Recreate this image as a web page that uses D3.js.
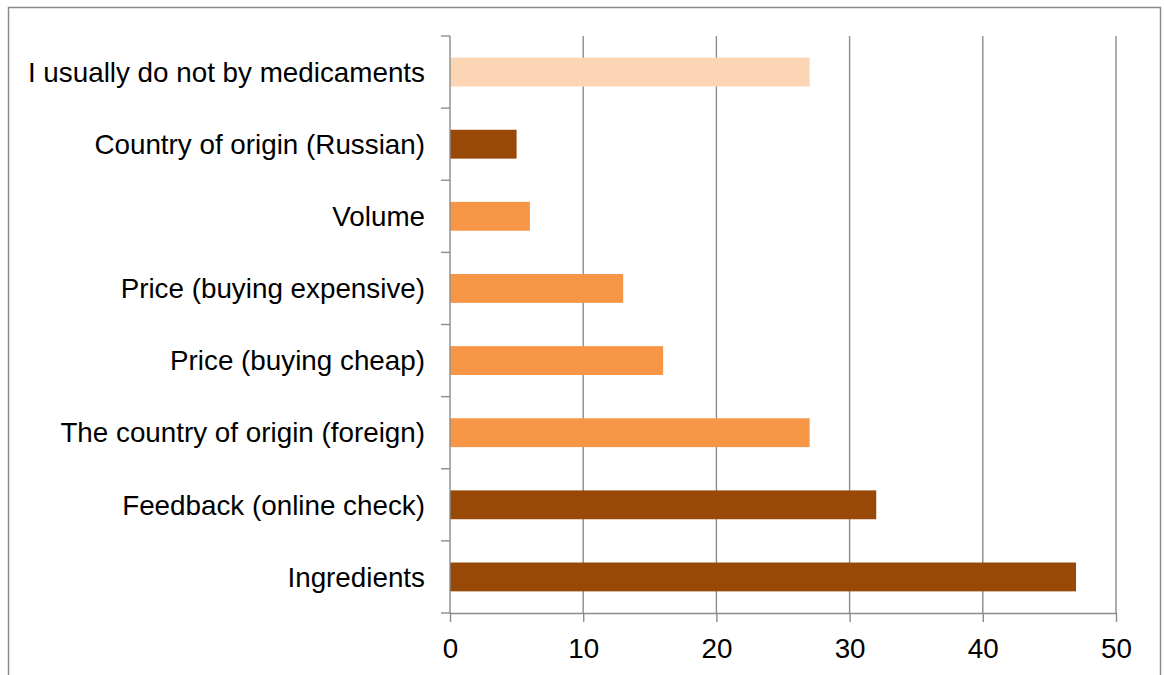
<!DOCTYPE html>
<html>
<head>
<meta charset="utf-8">
<script src="https://cdn.jsdelivr.net/npm/d3@7"></script>
<style>
  html, body { margin: 0; padding: 0; background: #fff; }
  svg { display: block; }
  text { font-family: "Liberation Sans", Arial, sans-serif; fill: #000; }
</style>
</head>
<body>
<svg id="chart" width="1164" height="675"></svg>
<script>
// Purchase criteria, listed top to bottom
const categories = [
  "I usually do not by medicaments",
  "Country of origin (Russian)",
  "Volume",
  "Price (buying expensive)",
  "Price (buying cheap)",
  "The country of origin (foreign)",
  "Feedback (online check)",
  "Ingredients"
];
const values = [27, 5, 6, 13, 16, 27, 32, 47];
const colors = ["#FCD5B5", "#984807", "#F79646", "#F79646", "#F79646", "#F79646", "#984807", "#984807"];
const xTicks = [0, 10, 20, 30, 40, 50];

const svg = d3.select("#chart");
const plotLeft = 450, plotRight = 1116, plotTop = 36, plotBottom = 613;
const fontSize = 27.8;

// outer frame
svg.append("path")
  .attr("d", "M8.5,680 V7.5 H1160.5 V680")
  .attr("fill", "none")
  .attr("stroke", "#8a8a8a")
  .attr("stroke-width", 1.5);

const x = d3.scaleLinear().domain([0, 50]).range([plotLeft, plotRight]);
const y = d3.scaleBand().domain(categories).range([plotTop, plotBottom])
  .paddingInner(0.6).paddingOuter(0.3);

// vertical gridlines
svg.append("g").selectAll("line")
  .data(xTicks.slice(1))
  .join("line")
  .attr("x1", d => x(d)).attr("x2", d => x(d))
  .attr("y1", plotTop).attr("y2", plotBottom)
  .attr("stroke", "#8c8c8c").attr("stroke-width", 1.4);

// bars
svg.append("g").selectAll("rect")
  .data(values)
  .join("rect")
  .attr("x", x(0))
  .attr("y", (d, i) => y(categories[i]))
  .attr("width", d => x(d) - x(0))
  .attr("height", y.bandwidth())
  .attr("fill", (d, i) => colors[i]);

// y axis: line plus category boundary ticks
const yAxis = svg.append("g");
yAxis.append("line")
  .attr("x1", plotLeft).attr("x2", plotLeft).attr("y1", plotTop).attr("y2", plotBottom)
  .attr("stroke", "#8c8c8c").attr("stroke-width", 1.4);
const step = (plotBottom - plotTop) / categories.length;
yAxis.selectAll("line.tk")
  .data(d3.range(categories.length + 1))
  .join("line").attr("class", "tk")
  .attr("x1", plotLeft - 9).attr("x2", plotLeft)
  .attr("y1", i => plotTop + i * step).attr("y2", i => plotTop + i * step)
  .attr("stroke", "#8c8c8c").attr("stroke-width", 1.4);
yAxis.selectAll("text")
  .data(categories)
  .join("text")
  .attr("x", 425)
  .attr("y", d => y(d) + y.bandwidth() / 2)
  .attr("dy", "0.35em")
  .attr("text-anchor", "end")
  .attr("font-size", fontSize)
  .text(d => d);

// x axis
const xAxis = d3.axisBottom(x).tickValues(xTicks).tickSize(9).tickPadding(16).tickSizeOuter(0);
const gx = svg.append("g").attr("transform", `translate(0,${plotBottom})`).call(xAxis);
gx.select(".domain").attr("stroke", "#8c8c8c").attr("stroke-width", 1.4);
gx.selectAll(".tick line").attr("stroke", "#8c8c8c").attr("stroke-width", 1.4);
gx.selectAll(".tick text")
  .attr("font-size", fontSize)
  .attr("font-family", "Liberation Sans, Arial, sans-serif")
  .attr("fill", "#000");
</script>
</body>
</html>
